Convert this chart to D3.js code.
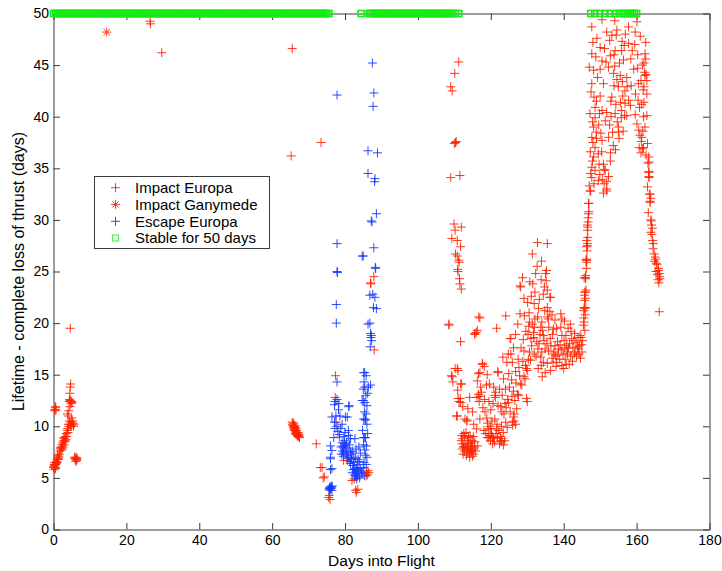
<!DOCTYPE html>
<html>
<head>
<meta charset="utf-8">
<script src="https://cdn.jsdelivr.net/npm/d3@7"></script>
<style>
  html, body { margin: 0; padding: 0; background: #fff; }
  svg { display: block; font-family: "Liberation Sans", Arial, Helvetica, sans-serif; }
</style>
</head>
<body>
<svg id="chart" width="722" height="571"></svg>
<script>
// ---------------- DATA ----------------
const xTicks = [0, 20, 40, 60, 80, 100, 120, 140, 160, 180];
const yTicks = [0, 5, 10, 15, 20, 25, 30, 35, 40, 45, 50];
const xLabel = "Days into Flight";
const yLabel = "Lifetime - complete loss of thrust (days)";
const legendLabels = ["Impact Europa", "Impact Ganymede", "Escape Europa", "Stable for 50 days"];

// [day, lifetime]
const impactEuropa = [
  // early cluster 0-7 days
  [0.0,6.0],[0.2,5.8],[0.4,6.2],[0.6,6.0],[0.8,6.4],[0.3,6.5],[0.5,5.9],[1.0,6.8],[1.2,7.0],[1.5,7.1],[1.3,6.9],
  [1.8,7.6],[2.0,7.9],[2.2,8.0],[2.4,7.8],[2.5,8.4],[2.7,8.6],[2.9,8.2],[3.0,8.8],[3.2,8.5],[3.4,8.7],[3.5,9.3],
  [3.8,9.6],[4.0,9.4],[4.2,10.0],[4.5,10.2],[4.8,10.4],[5.0,10.1],[5.3,10.3],[5.6,10.2],[5.0,10.8],[3.8,11.2],
  [4.2,11.5],[4.5,11.9],[4.3,12.4],[4.6,12.5],[4.9,12.4],[5.1,12.3],[4.5,13.2],[4.6,13.8],[4.7,14.1],[4.6,19.5],
  [0.3,11.6],[0.5,11.8],[0.7,11.6],[5.8,7.0],[6.0,6.8],[6.2,7.0],[6.4,6.7],[6.5,6.9],[6.1,6.6],
  [0.1,6.1],[0.6,6.3],[0.9,6.6],[1.1,7.2],[1.4,6.8],[1.6,7.3],[1.9,7.9],[2.1,7.7],[2.3,8.2],[2.6,8.0],[2.8,8.9],
  [3.1,8.6],[3.3,9.0],[3.6,9.0],[3.9,9.8],[4.1,10.2],[4.4,10.5],[4.7,10.0],[5.2,10.5],[5.5,10.0],[4.4,12.6],
  [4.8,12.2],[4.0,11.0],[0.4,11.5],[0.6,11.9],[5.9,6.9],[6.3,6.8],[0.2,6.3],[1.0,6.5],
  // isolated high points
  [26.5,49.25],[26.6,49.0],[29.7,46.2],[65.5,46.6],[65.2,36.2],[73.4,37.5],
  // diagonal block near 66 days
  [65.6,10.2],[65.8,10.0],[66.0,9.9],[66.2,9.7],[66.4,9.6],[66.6,9.4],[66.8,9.3],[67.0,9.2],[67.2,9.1],
  [67.4,9.0],[65.9,10.3],[66.5,9.8],[67.1,9.4],[66.3,9.3],[72.1,8.3],
  [65.5,10.4],[65.7,10.1],[65.9,9.8],[66.1,10.0],[66.3,9.9],[66.5,9.5],[66.7,9.6],[66.9,9.1],[67.1,9.0],
  [67.3,9.2],[67.5,8.9],[66.0,9.6],[66.6,9.2],[66.2,10.1],
  // 73-88 days
  [73.2,6.0],[73.7,6.0],[74.3,5.1],[74.0,5.0],[75.5,3.1],[75.7,3.3],[75.9,2.9],[77.4,14.9],[77.3,12.8],[77.5,10.4],
  [78.5,8.95],[79.6,6.7],[80.6,6.7],[81.9,4.75],[82.5,4.9],[82.9,3.8],[83.1,3.6],[83.5,3.9],[85.9,5.55],[86.1,5.3],
  [86.3,5.7],[85.8,5.2],[86.5,5.5],[88.0,17.4],[87.9,24.5],[87.1,23.8],[87.0,23.9],
  // column 108-112 days
  [111.2,45.3],[110.1,44.2],[109.0,42.9],[109.4,42.5],[110.3,37.5],[110.0,37.4],[110.5,37.6],[109.0,34.1],[111.5,34.3],
  [109.9,29.6],[111.9,29.3],[110.2,29.0],[109.3,28.2],[110.8,28.0],[111.7,27.4],[110.3,26.7],[110.8,26.5],[111.2,26.1],
  [110.9,25.2],[111.4,24.3],[111.5,23.8],[111.9,23.3],[111.0,25.0],[111.3,25.9],[116.7,20.6],
  // lower cluster 108-147 days
  [108.5,19.8],[111.7,18.2],[117.0,20.5],[115.6,18.9],[116.0,19.1],[121.6,19.5],[124.1,20.7],[127.4,19.9],[129.2,20.7],
  [128.0,23.6],[129.1,22.4],[132.1,23.0],[134.7,23.5],[136.2,22.5],[125.3,18.5],[124.8,17.0],[122.0,15.2],[117.7,16.1],
  [116.6,15.1],[109.2,14.9],[111.0,15.4],[109.6,14.3],[112.0,14.1],[111.0,12.7],[111.3,12.4],[116.6,13.1],[117.0,12.9],
  [118.8,14.0],[119.6,14.1],[121.1,13.0],[121.3,13.3],[110.6,11.0],[112.9,10.7],[113.4,10.5],[112.0,9.1],[112.3,8.8],
  [112.5,8.0],[113.8,7.8],[114.7,8.1],[115.6,8.5],[114.7,7.5],[113.2,7.9],[114.0,8.3],[115.0,7.8],[115.3,7.3],[113.6,8.6],
  [116.1,9.75],[117.0,10.7],[118.4,11.4],[119.3,9.75],[119.8,9.1],[119.4,8.9],[120.7,8.8],[120.2,9.3],[121.0,8.5],
  [123.0,8.8],[123.0,8.5],[123.5,8.2],[122.6,9.0],[121.6,9.75],[121.1,10.7],[123.0,11.4],[123.9,12.2],[124.8,12.3],
  [125.3,11.4],[126.2,10.9],[126.4,10.5],[126.0,10.1],[127.1,11.7],[126.6,12.5],[127.6,13.0],[128.5,14.0],[129.4,14.6],
  [129.8,15.6],[129.5,15.9],[130.3,16.5],[130.6,17.2],[131.2,17.8],[129.8,12.7],[130.0,12.4],[131.7,19.1],[132.1,20.4],
  [133.1,21.4],[134.0,20.1],[134.4,18.8],[134.0,17.2],[134.4,16.2],[133.8,15.9],[134.9,15.2],[135.8,20.4],[136.2,21.1],
  [137.2,19.4],[137.6,17.8],[137.3,17.2],[138.1,16.2],[139.5,15.9],[140.4,16.5],[139.5,18.8],[139.5,20.4],[140.8,17.8],
  [141.0,17.2],[142.2,18.5],[142.8,18.3],[144.0,17.5],[144.3,17.8],[144.5,18.8],[145.4,19.8],[145.7,21.4],[145.7,22.2],
  [145.9,23.0],[143.1,17.2],[141.5,16.0],
  [108.5,19.9],[116.3,19.3],[115.6,19.0],[125.5,18.5],[125.5,17.0],[117.7,16.0],[110.8,15.6],[109.4,14.8],[111.7,14.1],
  [117.0,15.2],[121.9,15.3],[116.3,14.4],[117.2,13.8],[124.9,15.1],[111.7,12.3],[111.6,12.7],[110.8,11.0],[113.5,10.6],
  [112.6,9.3],[114.9,8.6],[112.6,8.0],[114.4,7.7],[115.3,10.2],[118.1,9.6],[119.0,8.9],[119.8,10.0],[120.8,13.8],
  [121.3,12.8],[122.7,11.9],[123.6,11.2],[124.5,9.9],[122.7,8.6],[125.9,10.4],[126.4,11.2],[127.3,13.1],[128.2,14.1],
  [129.1,14.8],[130.0,15.4],[127.7,15.7],[129.1,17.3],[130.9,16.4],[131.8,18.6],[131.4,19.9],[132.8,20.6],[133.7,19.6],
  [134.6,18.3],[133.7,16.7],[135.5,16.1],[136.4,15.4],[137.3,17.0],[135.5,20.6],[135.5,21.5],[136.4,22.5],[135.5,23.2],
  [135.0,24.8],[135.3,25.1],[135.2,24.1],[132.3,24.8],[131.4,26.7],[132.8,27.8],[135.5,27.7],[128.7,24.4],[128.2,23.5],
  [139.2,20.9],[139.2,19.6],[140.1,18.3],[140.3,17.6],[141.0,17.0],[143.8,17.7],[144.7,18.6],[145.6,20.1],[146.1,21.5],
  [146.1,23.2],[145.6,24.4],[146.1,26.1],[146.5,27.7],
  [112.8,7.6],[113.3,7.2],[114.2,7.0],[114.8,7.9],[115.8,7.6],[112.2,7.8],[113.9,8.9],[115.2,9.0],[116.4,8.1],
  [112.8,9.0],[113.2,9.4],[111.9,8.6],[119.9,8.6],[120.4,9.0],[121.4,9.3],[120.0,9.8],[116.2,12.8],[117.4,13.3],
  [116.8,12.4],[124.2,11.8],[124.6,12.6],[126.8,10.2],[122.4,8.3],
  [136.8,16.6],[137.8,16.8],[138.6,17.5],[139.0,17.9],[139.8,17.0],[140.6,18.8],[141.6,18.0],[142.5,17.6],[143.4,18.1],
  [143.9,18.6],[144.9,17.9],[142.0,19.2],[141.2,19.5],[138.3,18.2],[136.9,18.9],[135.9,19.6],[134.8,21.2],[133.3,22.3],
  [131.9,21.9],[130.6,20.1],[130.2,18.9],[128.8,16.3],[127.9,14.9],[126.9,14.2],[125.8,12.9],[132.9,17.5],[132.4,16.8],
  [133.0,15.6],[134.1,14.8],
  [112.4,7.3],[112.9,8.3],[113.5,8.1],[114.1,7.6],[114.5,8.4],[115.0,7.1],[115.5,8.0],[113.7,7.4],[112.1,8.3],[114.3,9.1],
  [118.6,9.3],[119.1,10.3],[120.5,8.3],[121.8,8.9],[122.2,9.6],[123.4,9.4],[123.8,8.6],[124.1,10.4],[118.9,10.8],
  [120.3,10.5],[121.7,10.2],[122.9,10.0],[117.8,11.8],[118.3,12.6],[119.5,12.4],[120.0,11.6],[120.6,12.2],[122.0,12.0],
  [122.4,13.6],[123.1,13.0],[124.0,13.6],[125.1,13.8],[125.7,14.5],[126.2,13.4],[126.8,15.3],[127.5,16.5],[128.3,17.6],
  [128.9,18.4],[129.6,19.2],[130.5,21.0],[131.1,22.6],[131.5,23.8],[132.7,25.5],[133.8,24.2],[134.4,22.8],[133.9,26.0],
  [130.7,24.0],[130.1,22.0],[128.0,20.9],[126.8,18.9],[126.2,17.6],[125.9,16.2],[124.4,16.2],[123.3,16.7],[123.5,14.6],
  [119.0,15.0],[118.2,15.8],[113.7,11.7],[114.2,12.8],[112.3,11.9],[110.9,13.5],[115.0,11.4],[110.2,15.6],
  [131.9,17.0],[132.6,18.2],[133.5,18.9],[134.9,17.5],[135.4,18.0],[135.8,17.3],[136.3,18.5],[136.5,17.8],[137.1,16.2],
  [137.9,15.8],[138.4,16.9],[138.9,16.5],[139.3,17.4],[140.0,15.6],[140.7,16.0],[141.3,17.6],[141.9,16.8],[142.4,16.3],
  [142.9,17.0],[143.5,16.8],[144.2,17.0],[144.6,16.6],[145.0,17.2],[145.2,18.3],[143.0,19.0],[141.8,19.9],[140.2,20.2],
  [138.0,19.5],[137.6,20.3],[136.8,20.8],[134.2,19.3],[133.2,18.0],[132.0,19.6],[131.0,18.5],[130.4,19.7],[145.8,19.3],
  [145.9,20.8],[146.0,22.4],
  // upper cluster 146-167 days
  [147.7,48.7],[150.5,49.4],[154.0,49.3],[154.6,48.4],[154.4,47.9],[153.2,47.9],[156.9,48.0],[157.8,48.7],[159.6,48.2],
  [160.1,49.2],[162.5,47.2],[162.3,46.1],[162.5,45.6],[162.2,44.3],[162.6,44.1],[162.3,44.0],[160.5,43.2],[162.0,42.9],
  [162.8,42.2],[161.4,41.2],[160.8,40.9],[162.8,40.1],[160.1,39.3],[160.6,38.7],[161.4,38.0],[161.9,37.0],[161.2,36.5],
  [163.3,36.1],[163.1,35.5],[163.3,34.6],[163.4,34.1],[163.5,32.5],[163.7,31.8],[164.0,29.9],[164.2,28.6],[164.6,27.7],
  [165.1,26.4],[165.4,25.8],[166.0,25.1],[166.3,24.5],
  [147.7,46.1],[148.2,44.5],[147.7,43.2],[147.5,42.4],[148.6,40.9],[148.6,39.9],[148.2,39.0],[147.7,38.0],[148.6,37.0],
  [148.2,36.1],[147.7,35.1],[148.6,34.8],[147.7,34.1],[147.2,32.8],[146.8,31.6],[146.8,30.6],[146.6,29.3],[146.6,28.3],
  [146.3,27.4],[146.3,26.1],[146.0,24.4],
  [146.9,31.6],[146.9,30.8],[146.5,29.5],[146.5,29.0],[146.3,28.0],[146.5,27.5],[146.3,26.2],[146.3,25.9],[146.0,24.6],
  [146.0,24.3],[145.8,23.0],[145.7,22.7],[145.6,21.5],[145.5,21.2],[145.5,20.5],
  [150.5,45.4],[152.3,44.8],[154.1,46.4],[155.9,46.4],[156.4,45.5],[157.8,47.1],[153.7,44.2],[157.3,43.8],[155.0,42.9],
  [156.8,42.5],[157.8,41.6],[153.2,41.9],[152.9,41.5],[150.5,40.6],[151.4,39.6],[154.1,40.3],[155.9,40.6],[155.0,39.0],
  [155.0,38.5],[152.3,38.0],[150.5,37.7],[149.5,36.4],[150.9,35.4],[151.4,34.8],[149.5,33.8],[151.8,33.7],[151.8,32.8],
  [150.9,32.6],[149.7,35.4],[151.1,34.9],[147.4,34.5],[148.3,33.5],[151.1,33.5],[151.8,33.0],[147.4,32.8],
  [163.4,35.6],[163.4,34.7],[163.4,34.2],[163.7,32.5],[163.9,32.1],[163.7,31.7],[163.9,30.0],[164.1,29.5],[163.9,28.8],
  [164.4,28.0],[164.8,26.7],[165.2,26.2],[165.6,25.7],[166.0,25.3],[166.2,24.8],[166.4,24.3],[166.2,21.1],
  [160.9,38.2],[161.3,37.6],[161.7,38.6],[160.7,37.0],[161.6,36.9],
  [153.8,43.0],[154.6,43.6],[155.5,44.0],[156.2,42.0],[154.3,41.2],[155.6,41.4],[156.7,40.1],[153.0,40.0],[152.6,39.2],
  [151.8,40.4],[150.0,42.0],[150.9,43.2],[149.3,43.8],[149.0,41.5],[149.6,39.2],[150.2,38.4],[149.0,37.9],[152.8,36.5],
  [153.6,37.2],[154.2,36.8],[155.2,37.9],[148.8,45.8],[151.2,46.6],[152.6,47.4],[153.8,46.0],[155.3,45.2],[156.0,47.3],
  [158.8,46.4],[159.2,44.6],[158.5,43.0],[158.3,41.1],[157.3,40.1],[156.3,38.6],
  [146.7,30.2],[146.7,29.8],[146.4,27.0],[146.2,25.3],[147.0,33.3],[147.9,35.7],[147.3,36.6],[148.0,37.5],[148.9,38.5],
  [147.9,39.5],[147.2,40.3],[148.3,41.9],[147.0,44.8],[148.0,47.2],[149.1,47.6],[150.0,44.6],[149.8,40.3],[150.4,36.6],
  [149.9,34.4],[150.6,33.9],[152.3,34.2],[152.8,35.7],[153.4,38.5],[154.7,39.5],[155.8,39.9],[156.8,41.3],[157.4,42.9],
  [156.1,43.4],[154.0,44.9],[152.8,45.9],[151.6,45.3],[150.0,46.7],[151.8,48.2],[156.6,46.9],[158.4,45.6],[159.5,47.0],
  [160.3,46.0],[161.0,47.8],[161.6,45.0],[160.2,44.7],[161.2,43.5],[159.7,42.2],[160.4,41.6],[159.6,40.2],[161.9,40.0],
  [162.3,39.0],[162.0,41.4],[161.8,42.6],[162.0,45.2],[162.8,43.5],[163.0,37.4],[162.6,36.3],[163.0,33.2],[163.2,30.7],
  [164.3,29.2],[164.5,27.2],[164.9,26.0],[165.3,25.0],[165.7,24.7],[166.1,23.9],[165.9,24.2]
];

const impactGanymede = [[14.6,48.2]];

const escapeEuropa = [
  [77.8,42.1],[77.8,27.7],[77.8,25.0],[77.9,24.9],[87.5,45.2],[87.9,42.3],[87.7,41.0],[86.3,36.7],[88.9,36.5],
  [86.3,34.5],[88.2,34.0],[88.1,33.7],[88.6,30.6],[87.2,29.9],[87.4,29.8],[87.9,27.3],[85.0,26.5],[84.7,26.5],
  [88.3,25.4],[88.4,25.3],[86.8,22.7],[88.2,22.5],[87.6,22.8],[88.6,21.4],[86.3,19.9],[87.2,18.8],[87.3,18.3],
  [86.8,20.0],[87.0,19.0],[87.1,18.6],[86.9,17.7],[87.8,21.5],
  [85.4,15.2],[85.8,14.9],[87.0,14.0],[85.0,13.6],[85.4,13.8],[85.0,12.5],[85.4,12.3],[86.0,12.0],[85.5,10.7],
  [86.0,10.2],[85.6,10.6],[85.4,8.9],[85.9,8.1],[85.1,8.2],[85.6,7.2],[85.2,6.5],[84.5,5.55],[85.1,15.2],[86.4,13.8],
  [84.7,12.5],[85.1,10.7],[85.6,8.9],[86.0,7.0],[85.4,7.7],
  [77.6,21.8],[77.6,20.0],[77.8,14.3],[77.3,12.4],[77.1,12.1],[77.8,12.6],[81.0,11.9],[76.4,10.9],[80.1,10.9],
  [77.1,10.4],[77.8,10.0],[76.9,8.9],[81.0,9.1],[76.0,8.1],[76.0,7.0],[79.6,7.4],[79.6,7.9],[79.3,7.6],[80.0,7.7],
  [80.2,8.1],[79.9,8.6],[79.2,8.4],[80.5,7.2],[80.0,9.4],[79.7,9.0],[81.0,7.0],[83.8,8.0],[85.1,8.9],[83.3,6.0],
  [83.3,5.1],[83.0,5.6],[83.6,5.4],[82.8,5.2],[83.5,6.3],[84.0,5.0],[84.7,5.4],[82.4,6.5],[82.1,6.2],[82.6,5.9],
  [81.8,6.8],[81.5,6.4],[82.0,5.5],[82.9,6.9],[76.4,5.9],[76.0,3.95],[75.8,4.1],[76.2,4.0],[76.4,3.8],[75.6,3.9],
  [76.5,4.2],[76.4,7.65],[76.0,6.85],[76.0,5.8],[80.6,10.9],[81.1,12.0],[82.7,8.8],[82.1,7.6],[81.2,8.2],[78.3,12.2],
  [78.6,11.0],[78.0,9.5],[78.4,9.2],[79.0,7.3],[80.8,7.9],[81.8,7.3],[83.0,7.8],[84.2,7.4],[84.0,6.6],
  [75.9,3.8],[76.1,4.2],[76.3,4.1],[75.7,4.0],[79.4,8.1],[79.8,8.3],[80.3,7.5],[80.4,8.4],[79.5,7.1],[80.7,6.9],
  [81.3,6.6],[81.5,7.5],[82.3,5.8],[82.6,5.3],[83.1,5.8],[83.8,5.7],[83.2,4.9],[84.3,5.9],[83.6,6.8],[82.4,7.0],
  [78.8,9.8],[79.2,10.2],[78.2,11.6],[77.5,11.0],[77.2,9.8],[78.9,8.0],[80.9,9.6],[81.5,8.8],[84.8,9.6],[85.3,11.4],
  [85.8,11.2],[86.2,13.2],[85.2,14.3],[85.7,13.0],[86.2,9.3],[85.8,6.3],[85.0,6.0],[85.3,5.2]
];

const stableLifetime = 50;
const stableDays = [
  0,0.5,1,1.5,2,2.5,3,3.5,4,4.5,5,5.5,6,6.5,7,7.5,8,8.5,9,9.5,10,10.5,11,11.5,12,12.5,13,13.5,14,14.5,
  15,15.5,16,16.5,17,17.5,18,18.5,19,19.5,20,20.5,21,21.5,22,22.5,23,23.5,24,24.5,25,25.5,26,26.5,27,27.5,
  28,28.5,29,29.5,30,30.5,31,31.5,32,32.5,33,33.5,34,34.5,35,35.5,36,36.5,37,37.5,38,38.5,39,39.5,40,40.5,
  41,41.5,42,42.5,43,43.5,44,44.5,45,45.5,46,46.5,47,47.5,48,48.5,49,49.5,50,50.5,51,51.5,52,52.5,53,53.5,
  54,54.5,55,55.5,56,56.5,57,57.5,58,58.5,59,59.5,60,60.5,61,61.5,62,62.5,63,63.5,64,64.5,65,65.5,66,66.5,
  67,67.5,68,68.5,69,69.5,70,70.5,71,71.5,72,72.5,73,73.5,74,74.5,75,75.6,
  84.4,86.6,87,87.5,88,88.5,89,89.5,90,90.5,91,91.5,92,92.5,93,93.5,94,94.5,95,95.5,96,96.5,97,97.5,98,98.5,
  99,99.5,100,100.5,101,101.5,102,102.5,103,103.5,104,104.5,105,105.5,106,106.5,107,107.5,108,108.5,109,109.5,
  110.3,111.2,
  147.4,148.5,149.9,151.3,152.7,154.1,155.2,156.3,157.0,157.6,158.2,158.8,159.4,160.0
];

// ---------------- DRAWING ----------------
const svg = d3.select("#chart");
const W = 722, H = 571;
const plotL = 53.5, plotR = 709.5, plotT = 13.5, plotB = 529.5;

svg.append("rect").attr("width", W).attr("height", H).attr("fill", "#fff");

const x = d3.scaleLinear().domain([0, 180]).range([plotL, plotR]);
const y = d3.scaleLinear().domain([0, 50]).range([plotB, plotT]);

const axisColor = "#3a3a3a";
const tickLen = 6.5;

function styleAxis(g) {
  g.selectAll("path.domain").attr("stroke", axisColor).attr("stroke-width", 1);
  g.selectAll(".tick line").attr("stroke", axisColor).attr("stroke-width", 1);
  g.selectAll(".tick text").attr("fill", "#000").attr("font-size", 14)
    .attr("font-family", "'Liberation Sans', Arial, Helvetica, sans-serif");
}

svg.append("g").attr("transform", `translate(0,${plotB})`)
  .call(d3.axisBottom(x).tickValues(xTicks).tickFormat(d3.format("d"))
    .tickSizeInner(-tickLen).tickSizeOuter(0).tickPadding(6))
  .call(styleAxis);
svg.append("g").attr("transform", `translate(0,${plotT})`)
  .call(d3.axisTop(x).tickValues(xTicks).tickFormat("")
    .tickSizeInner(-tickLen).tickSizeOuter(0))
  .call(styleAxis);
svg.append("g").attr("transform", `translate(${plotL},0)`)
  .call(d3.axisLeft(y).tickValues(yTicks).tickFormat(d3.format("d"))
    .tickSizeInner(-tickLen).tickSizeOuter(0).tickPadding(4.5))
  .call(styleAxis);
svg.append("g").attr("transform", `translate(${plotR},0)`)
  .call(d3.axisRight(y).tickValues(yTicks).tickFormat("")
    .tickSizeInner(-tickLen).tickSizeOuter(0))
  .call(styleAxis);

const red = "#ff2200";
const blue = "#1438ff";
const green = "#14ec14";

const plusPath = "M-4.5,0H4.5M0,-4.5V4.5";
const starPath = "M-4.5,0H4.5M0,-4.5V4.5M-3.2,-3.2L3.2,3.2M-3.2,3.2L3.2,-3.2";

const marks = svg.append("g");

marks.append("g").selectAll("path").data(impactEuropa).join("path")
  .attr("d", plusPath)
  .attr("transform", d => `translate(${x(d[0])},${y(d[1])})`)
  .attr("fill", "none").attr("stroke", red).attr("stroke-width", 1).attr("stroke-opacity", 0.9);

marks.append("g").selectAll("path").data(impactGanymede).join("path")
  .attr("d", starPath)
  .attr("transform", d => `translate(${x(d[0])},${y(d[1])})`)
  .attr("fill", "none").attr("stroke", red).attr("stroke-width", 1).attr("stroke-opacity", 0.9);

marks.append("g").selectAll("path").data(escapeEuropa).join("path")
  .attr("d", plusPath)
  .attr("transform", d => `translate(${x(d[0])},${y(d[1])})`)
  .attr("fill", "none").attr("stroke", blue).attr("stroke-width", 1).attr("stroke-opacity", 0.9);

marks.append("g").selectAll("rect").data(stableDays).join("rect")
  .attr("x", d => x(d) - 3).attr("y", y(stableLifetime) - 3)
  .attr("width", 6).attr("height", 6)
  .attr("fill", "none").attr("stroke", green).attr("stroke-width", 1.6);

// axis labels
svg.append("text")
  .attr("x", (plotL + plotR) / 2).attr("y", 566)
  .attr("text-anchor", "middle").attr("font-size", 15.5).attr("fill", "#000")
  .text(xLabel);

svg.append("text")
  .attr("transform", `translate(24,${(plotT + plotB) / 2}) rotate(-90)`)
  .attr("text-anchor", "middle").attr("font-size", 16).attr("fill", "#000")
  .text(yLabel);

// legend
const lg = svg.append("g");
lg.append("rect").attr("x", 94.5).attr("y", 176.5).attr("width", 175).attr("height", 72)
  .attr("fill", "#fff").attr("stroke", axisColor).attr("stroke-width", 1);

const legendColors = [red, red, blue, green];
const legendRowY = [187.7, 204.4, 221.3, 238.0];
legendLabels.forEach((lab, i) => {
  const cy = legendRowY[i];
  if (i === 3) {
    lg.append("rect").attr("x", 112.5).attr("y", cy - 3).attr("width", 6).attr("height", 6)
      .attr("fill", "none").attr("stroke", "#55f055").attr("stroke-width", 1.2);
  } else {
    lg.append("path").attr("d", i === 1 ? starPath : plusPath)
      .attr("transform", `translate(115.5,${cy})`)
      .attr("fill", "none").attr("stroke", legendColors[i]).attr("stroke-width", 1).attr("stroke-opacity", 0.9);
  }
  lg.append("text").attr("x", 135).attr("y", cy + 5.3)
    .attr("font-size", 15).attr("fill", "#000").text(lab);
});
</script>
</body>
</html>
